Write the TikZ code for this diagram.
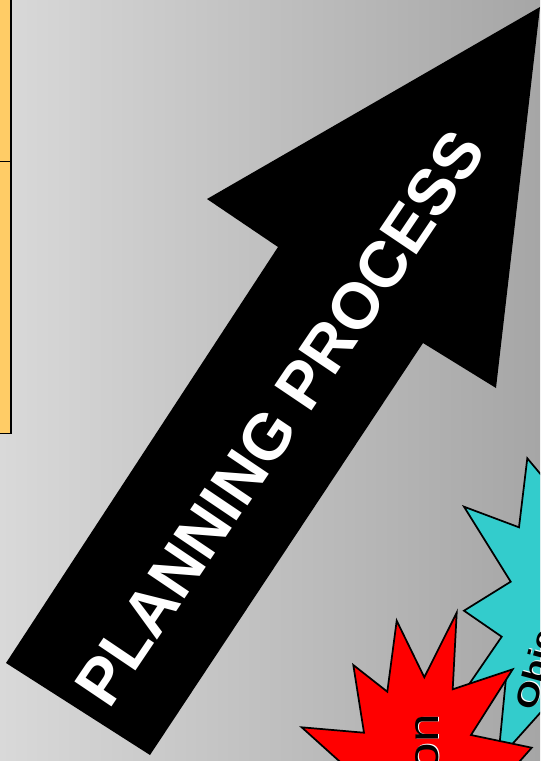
\documentclass[tikz,border=0pt]{standalone}
\usepackage{fontspec}
\setmainfont{Liberation Sans}
\usepackage{xcolor}
\definecolor{slidegraylight}{HTML}{D9D9D9}
\definecolor{slidegraydark}{HTML}{A6A6A6}
\definecolor{notefill}{HTML}{FFCC66}
\definecolor{burstred}{HTML}{FF0000}
\definecolor{burstcyan}{HTML}{33CCCC}
\newcommand{\slideframe}{(0,0) rectangle (540,761)}
\newcommand{\arrowoutline}{(6,663) -- (278,247) -- (207,199) -- (540,7) -- (496,388) -- (423,343) -- (150,755) -- cycle}
\newcommand{\redburst}{(301.7,727.3) -- (364,732.7) -- (353.3,665) -- (387.3,691.7) -- (396.7,620.7) -- (424.3,677.3) -- (456.7,612.7) -- (452.7,689.3) -- (512.7,669.3) -- (471,735) -- (531.7,747.7) -- (505,778) -- (358,778) -- cycle}
\newcommand{\cyanburst}{(527.3,458.3) -- (548,483) -- (575,483) -- (575,680) -- (558,693) -- (498,760) -- (506,678) -- (450,712) -- (501.7,636.7) -- (464,610.7) -- (510.7,581.7) -- (464,506.7) -- (519,527.3) -- cycle}
\newcommand{\burstword}[4]{%
  \node[xshift=0.9pt, yshift=0.6pt, #2, white] (#1shadow) at #3 {#4};
  \node[#2, black] (#1) at #3 {#4};
}

\begin{document}
\begin{tikzpicture}[x=0.75pt, y=-0.75pt,
  notebox/.style={fill=notefill, draw=black, line width=1.1pt},
  burst/.style={draw=black, line width=1.3pt, line join=miter},
  arrowlabel/.style={white, font=\bfseries\fontsize{48.75}{50}\selectfont, inner sep=0pt},
  redword/.style={font=\fontsize{32}{34}\selectfont, inner sep=0pt, rotate=90, xscale=1.2, anchor=base east},
  cyanword/.style={font=\bfseries\fontsize{23}{25}\selectfont, inner sep=0pt, rotate=75, xscale=1.2, anchor=base west}]

  \useasboundingbox \slideframe;
  \shade[left color=slidegraylight, right color=slidegraydark] \slideframe;
  \clip \slideframe;

  %% Left: the two note boxes
  \path[notebox] (-20,-20) rectangle (11,161.5);
  \path[notebox] (-20,161.5) rectangle (11,433.5);

  %% The big arrow
  \fill[black] \arrowoutline;
  \node[arrowlabel, rotate=56] (planning) at (280,418) {PLANNING PROCESS};

  %% Bursts: cyan first, red on top
  \path[burst, fill=burstcyan] \cyanburst;
  \burstword{objectives}{cyanword}{(535,712)}{Objectives}
  \path[burst, fill=burstred] \redburst;
  \burstword{mission}{redword}{(438,714)}{Mission}

\end{tikzpicture}
\end{document}
